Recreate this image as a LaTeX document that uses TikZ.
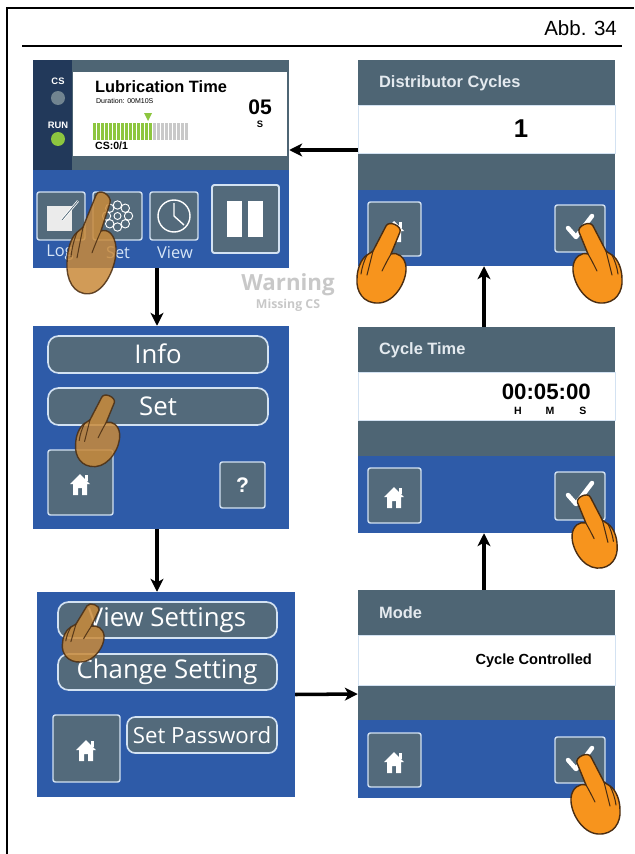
\documentclass[tikz,border=0pt]{standalone}
\usepackage{fontspec}
\setmainfont{Liberation Sans}
\newfontfamily\btnfont{Open Sans}
\usetikzlibrary{arrows.meta,fit}

\definecolor{panelblue}{HTML}{2E5BA8}
\definecolor{slate}{HTML}{4E6574}
\definecolor{navy}{HTML}{22395A}
\definecolor{btnfill}{HTML}{536A7B}
\definecolor{btnline}{HTML}{D3E2F2}
\definecolor{titletext}{HTML}{E4EAEF}
\definecolor{labeltext}{HTML}{D6E5F6}
\definecolor{handorange}{HTML}{F7941D}
\definecolor{handtan}{HTML}{C98A3A}
\definecolor{handline}{HTML}{4A2D12}
\definecolor{barlime}{HTML}{8DC63F}
\definecolor{bargrey}{HTML}{C9C9C9}
\definecolor{warngrey}{HTML}{C8C8C8}

\tikzset{
  screen/.style={inner sep=0pt, fill=panelblue},
  iconbtn/.style={draw=btnline, fill=btnfill, line width=1.2pt, rounded corners=2pt},
  pillbtn/.style={draw=btnline, fill=btnfill, line width=1.4pt, rounded corners=9pt},
  pilltext/.style={font=\btnfont\fontsize{22}{24}\selectfont, text=white},
  title/.style={anchor=west, font=\bfseries\fontsize{14}{16}\selectfont, text=titletext},
  flow/.style={line width=3pt, -{Stealth[length=11pt,width=11pt,inset=3pt]}},
  % small white icons
  pics/homeicon/.style={code={
    \fill[white] (-10,0) -- (0,-10) -- (10,0) -- (7,0) -- (7,11) -- (2,11) -- (2,4)
      -- (-2,4) -- (-2,11) -- (-7,11) -- (-7,0) -- cycle;
    \fill[white] (5,-9) rectangle (8,-3);
  }},
  pics/checkicon/.style={code={
    \draw[white, line width=3.8pt, line cap=round, line join=round] (-12,0) -- (-4,9) -- (12,-12);
  }},
  % pointing hand, finger tip at the origin
  pics/hand/.style={code={
    \filldraw[fill=#1, draw=handline, line width=1.2pt, line join=round]
      (-7,3) -- (2,25) .. controls (-5,23) and (-12,28) .. (-13,38)
      .. controls (-14,52) and (-2,73) .. (14,74)
      .. controls (30,75) and (37,62) .. (36,50)
      .. controls (36,40) and (32,30) .. (26,26)
      .. controls (23,24) and (21,23) .. (20,22) -- (7,-3)
      .. controls (4,-9) and (-9,-3) .. cycle;
    \draw[handline, line width=0.9pt, line cap=round]
      (20,22) .. controls (22,30) and (24,38) .. (26,46)
      (26,26) .. controls (29,32) and (31,38) .. (32,45)
      (2,25) .. controls (5,30) and (8,36) .. (11,42);
  }},
}

\begin{document}
\begin{tikzpicture}[x=0.3mm, y=-0.3mm]
\useasboundingbox (0,0) rectangle (634,854);

% frame and caption
\draw[line width=2.2pt] (7,854) -- (7,8) -- (634,8);
\draw[line width=1.8pt] (22,46) -- (622,46);
\node[anchor=base east, font=\fontsize{17.5}{19}\selectfont] at (621,36) {Abb. 34};

% screens
\node[screen, fit={(33,60) (289,268)}] (main) {};
\node[screen, fit={(33,326) (289,529)}] (info) {};
\node[screen, fit={(37,592) (295,797)}] (setmenu) {};
\node[screen, fit={(358,60) (615,266)}] (dist) {};
\node[screen, fit={(358,327) (615,533)}] (cyctime) {};
\node[screen, fit={(358,590) (615,798)}] (mode) {};

% run screen
\fill[slate] (33,60) rectangle (289,170);
\fill[navy] (33,60) rectangle (72,170);
\fill[white] (73,72) rectangle (287,156);
\node[font=\bfseries\fontsize{8}{9}\selectfont, text=white] at (58,81) {CS};
\fill[slate!80!white] (58,98) circle (7);
\node[font=\bfseries\fontsize{8}{9}\selectfont, text=white] at (58,125) {RUN};
\fill[barlime] (58,139) circle (7);
\node[anchor=west, font=\bfseries\fontsize{14}{16}\selectfont] at (91,87) {Lubrication Time};
\node[anchor=west, font=\fontsize{6}{7}\selectfont] at (92,101) {Duration: 00M10S};
\node[font=\bfseries\fontsize{18}{20}\selectfont] at (260,107) {05};
\node[font=\bfseries\fontsize{8}{9}\selectfont] at (260,124) {S};
\foreach \i in {0,...,14}
  \fill[barlime] (93+\i*4,123) rectangle ++(2.5,17);
\foreach \i in {15,...,23}
  \fill[bargrey] (93+\i*4,123) rectangle ++(2.5,17);
\fill[barlime] (144,113) -- (152,113) -- (148,121) -- cycle;
\node[anchor=west, font=\bfseries\fontsize{9}{10}\selectfont] at (91,146) {CS:0/1};

% run screen buttons
\draw[iconbtn] (37,192) rectangle (85,240);
\draw[iconbtn] (93,192) rectangle (142,240);
\draw[iconbtn] (150,192) rectangle (198,240);
\draw[iconbtn, line width=1.6pt] (212,185) rectangle (279,253);
\fill[white] (227,201) rectangle (242,237);
\fill[white] (248,201) rectangle (263,237);
\fill[white!92!black] (47,206) rectangle (72,231);
\draw[white, line width=2pt] (62,220) -- (78,201);
\draw[slate, line width=0.6pt] (62,220) -- (78,201);
\foreach \a in {0,45,...,315}
  \draw[white, line width=0.8pt] ([shift={(\a:11)}]117.5,216) circle (4.2);
\draw[white, line width=0.8pt] (117.5,216) circle (3.5);
\draw[white, line width=1.2pt] (174,216) circle (16);
\draw[white, line width=1.2pt] (174,203) -- (174,216) -- (184,225);
\node[font=\btnfont\fontsize{14}{16}\selectfont, text=labeltext] at (60,253) {Log};
\node[font=\btnfont\fontsize{14}{16}\selectfont, text=labeltext] at (118,253) {Set};
\node[font=\btnfont\fontsize{14}{16}\selectfont, text=labeltext] at (175,253) {View};

\node[font=\btnfont\bfseries\fontsize{19}{20}\selectfont, text=warngrey] at (288,285) {Warning};
\node[font=\btnfont\bfseries\fontsize{10.5}{12}\selectfont, text=warngrey] at (288,305) {Missing CS};

% menu screen
\draw[pillbtn] (48,336) rectangle (268,373);
\node[pilltext] at (158,354) {Info};
\draw[pillbtn] (48,388) rectangle (268,425);
\node[pilltext] at (158,406) {Set};
\draw[iconbtn] (48,450) rectangle (113,515);
\pic at (80,484) {homeicon};
\draw[iconbtn] (220,462) rectangle (265,508);
\node[font=\bfseries\fontsize{18}{20}\selectfont, text=white] at (242.5,485) {?};

% settings screen
\draw[pillbtn] (58,602) rectangle (277,638);
\node[pilltext] at (167,620) {View Settings};
\draw[pillbtn] (58,654) rectangle (277,690);
\node[pilltext] at (167,672) {Change Setting};
\draw[iconbtn] (53,715) rectangle (120,782);
\pic at (86,750) {homeicon};
\draw[pillbtn, rounded corners=7pt] (127,717) rectangle (277,753);
\node[font=\btnfont\fontsize{19}{21}\selectfont, text=white] at (202,735) {Set Password};

% distributor cycles screen
\fill[slate] (358,60) rectangle (615,190);
\filldraw[fill=white, draw=btnline] (358,105) rectangle (615,153);
\node[title] at (375,83) {Distributor Cycles};
\node[font=\bfseries\fontsize{22}{24}\selectfont] at (521,129) {1};
\draw[iconbtn] (368,202) rectangle (421,256);
\pic at (394,231) {homeicon};
\draw[iconbtn] (555,205) rectangle (605,252);
\pic at (580,228) {checkicon};

% cycle time screen
\fill[slate] (358,327) rectangle (615,456);
\filldraw[fill=white, draw=btnline] (358,372) rectangle (615,420);
\node[title] at (375,350) {Cycle Time};
\node[anchor=east, font=\bfseries\fontsize{19}{21}\selectfont] at (595,392) {00:05:00};
\foreach \u/\x in {H/518,M/550,S/583}
  \node[font=\bfseries\fontsize{9}{10}\selectfont] at (\x,411) {\u};
\draw[iconbtn] (368,468) rectangle (421,523);
\pic at (394,497) {homeicon};
\draw[iconbtn] (555,472) rectangle (605,520);
\pic at (580,495) {checkicon};

% mode screen
\fill[slate] (358,590) rectangle (615,720);
\filldraw[fill=white, draw=btnline] (358,635) rectangle (615,685);
\node[title] at (375,613) {Mode};
\node[anchor=east, font=\bfseries\fontsize{12.5}{14}\selectfont] at (596,661) {Cycle Controlled};
\draw[iconbtn] (368,733) rectangle (421,787);
\pic at (394,762) {homeicon};
\draw[iconbtn] (555,737) rectangle (605,783);
\pic at (580,760) {checkicon};

% flow between screens
\draw[flow] (dist.west |- 0,150) -- (main.east |- 0,150);
\draw[flow] (main.south -| 157,0) -- (info.north -| 157,0);
\draw[flow] (info.south -| 157,0) -- (setmenu.north -| 157,0);
\draw[flow] (setmenu.east) -- (mode.west);
\draw[flow] (mode.north -| 484,0) -- (cyctime.south -| 484,0);
\draw[flow] (cyctime.north -| 484,0) -- (dist.south -| 484,0);

% touching hands
\pic[xscale=-1, yscale=1.28, opacity=.85] at (103,199) {hand=handtan};
\pic[xscale=-.9, yscale=.9, opacity=.85] at (108,400) {hand=handtan};
\pic[xscale=-.85, yscale=.73, opacity=.85] at (93,608) {hand=handtan};
\pic[xscale=-1] at (393,229) {hand=handorange};
\pic at (586,229) {hand=handorange};
\pic[scale=.92] at (584,500) {hand=handorange};
\pic at (584,760) {hand=handorange};
\end{tikzpicture}
\end{document}
